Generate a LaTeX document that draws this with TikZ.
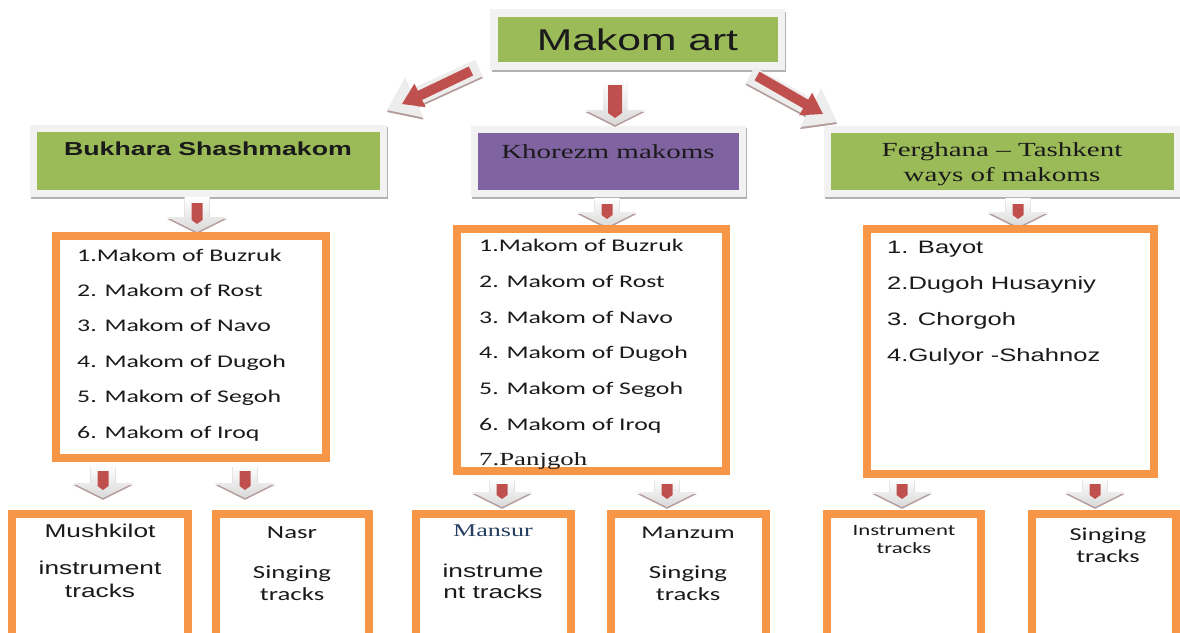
\documentclass[tikz,border=0pt]{standalone}
\usepackage{fontspec}
\setmainfont{Liberation Serif}
\newfontfamily\fA[FakeStretch=1.42]{Liberation Sans}
\newfontfamily\fT[FakeStretch=1.45]{Liberation Serif}
\newfontfamily\fC[FakeStretch=1.45]{Carlito}
\usetikzlibrary{calc}
\definecolor{hgreen}{HTML}{9BBB59}
\definecolor{hpurple}{HTML}{8064A2}
\definecolor{obord}{HTML}{F79646}
\definecolor{ared}{HTML}{C0504D}
\definecolor{agray}{HTML}{EDEDED}
\definecolor{ashadow}{HTML}{B49C9C}
\definecolor{frame}{HTML}{F2F2F2}
\definecolor{mansurc}{HTML}{243F60}
\definecolor{txt}{HTML}{1A1A1A}
% block arrow: #1 style, #2 tail, #3 tip, #4 shaft half, #5 head half, #6 head length
\newcommand\blockarrow[6]{%
  \coordinate (ba-hb) at ($#3!#6!#2$);
  \path[#1] ($#2!#4!90:#3$) -- ($(ba-hb)!#4!90:#3$) -- ($(ba-hb)!#5!90:#3$) -- #3
    -- ($(ba-hb)!#5!-90:#3$) -- ($(ba-hb)!#4!-90:#3$) -- ($#2!#4!-90:#3$) -- cycle;
}
% down arrow between boxes: #1 name, #2 x, #3 top y, #4 tip y
\newcommand\downarr[4]{%
  \coordinate (#1-t) at (#2,#3);
  \coordinate (#1-b) at (#2,#4);
  \coordinate (#1-rt) at (#2,#3+6);
  \coordinate (#1-rb) at (#2,#4-8);
  \blockarrow{fill=ashadow,transform canvas={yshift=-1.8pt}}{(#1-t)}{(#1-b)}{12.5pt}{30pt}{15pt}
  \blockarrow{top color=white,bottom color=black!15}{(#1-t)}{(#1-b)}{12.5pt}{30pt}{15pt}
  \blockarrow{fill=ared}{(#1-rt)}{(#1-rb)}{5.5pt}{5.5pt}{4pt}
}
\tikzset{
  hdr/.style={draw=frame, line width=7pt, inner sep=0pt,
    preaction={draw=black!30, line width=7pt, transform canvas={xshift=1.5pt,yshift=-2pt}}},
  obox/.style={draw=obord, line width=8pt, inner sep=0pt, fill=white},
  itemC/.style={anchor=base west, inner sep=0pt, text=txt, font=\fC\fontsize{17.8}{20}\selectfont},
  itemA/.style={anchor=base west, inner sep=0pt, text=txt, font=\fA\fontsize{18}{20}\selectfont},
  btxt/.style={anchor=base, inner sep=0pt, text=txt},
}
\begin{document}
\begin{tikzpicture}[x=1pt,y=-1pt]
\useasboundingbox (0,0) rectangle (1180,632);
\fill[white] (0,0) rectangle (1180,632);

% ---------- headers ----------
\node[hdr, fill=hgreen, line width=7.5pt, minimum width=287.5, minimum height=53,
  text=txt, font=\fA\fontsize{30}{36}\selectfont] (top) at (637.5,39.5) {Makom art};

\node[hdr, fill=hgreen, minimum width=350, minimum height=64.5,
  label={[font=\fA\bfseries\fontsize{18.8}{22}\selectfont, text=txt, yshift=12pt]center:Bukhara Shashmakom}]
  (bukh) at (208,161) {};
\node[hdr, fill=hpurple, minimum width=268, minimum height=64,
  label={[font=\fT\fontsize{20}{24}\selectfont, text=txt, yshift=10pt]center:Khorezm makoms}]
  (khor) at (608,161.5) {};
\node[hdr, fill=hgreen, minimum width=350, minimum height=64,
  label={[font=\fT\fontsize{20}{25}\selectfont, text=txt, align=center, yshift=-3pt]center:Ferghana – Tashkent\\ways of makoms}]
  (ferg) at (1002,161.5) {};

% ---------- arrows from the title ----------
\coordinate (la-t) at (479,68);  \coordinate (la-b) at (387,110);
\coordinate (la-rt) at (471,71); \coordinate (la-rb) at (402,104);
\blockarrow{fill=ashadow,transform canvas={yshift=-2pt}}{(la-t)}{(la-b)}{9pt}{22pt}{30pt}
\blockarrow{fill=agray}{(la-t)}{(la-b)}{9pt}{22pt}{30pt}
\blockarrow{fill=ared}{(la-rt)}{(la-rb)}{5pt}{13pt}{20pt}

\coordinate (ra-t) at (750,75);  \coordinate (ra-b) at (837,122);
\coordinate (ra-rt) at (757,76); \coordinate (ra-rb) at (823,114);
\blockarrow{fill=ashadow,transform canvas={yshift=-2pt}}{(ra-t)}{(ra-b)}{9pt}{22pt}{30pt}
\blockarrow{fill=agray}{(ra-t)}{(ra-b)}{9pt}{22pt}{30pt}
\blockarrow{fill=ared}{(ra-rt)}{(ra-rb)}{5pt}{13pt}{20pt}

\coordinate (ma-t) at (615,80);  \coordinate (ma-b) at (615,125);
\coordinate (ma-rt) at (615,85); \coordinate (ma-rb) at (615,118);
\blockarrow{fill=ashadow,transform canvas={yshift=-1.8pt}}{(ma-t)}{(ma-b)}{12pt}{30pt}{15pt}
\blockarrow{top color=white,bottom color=black!15}{(ma-t)}{(ma-b)}{12pt}{30pt}{15pt}
\blockarrow{fill=ared}{(ma-rt)}{(ma-rb)}{7pt}{7pt}{5pt}

% ---------- arrows below headers ----------
\downarr{d1}{197}{197}{232}
\downarr{d2}{607}{198}{227}
\downarr{d3}{1018}{198}{227}

% ---------- list boxes ----------
\node[obox, minimum width=270, minimum height=222] (blist) at (191,347) {};
\node[obox, minimum width=269, minimum height=242] (klist) at (591.5,350) {};
\node[obox, minimum width=287, minimum height=245] (flist) at (1010.5,351.5) {};

\foreach \t [count=\i] in {1.Makom of Buzruk, 2. Makom of Rost, 3. Makom of Navo,
  4. Makom of Dugoh, 5. Makom of Segoh, 6. Makom of Iroq}
  \node[itemC] (bi\i) at (77,261+35.4*\i-35.4) {\t};

\foreach \t [count=\i] in {1.Makom of Buzruk, 2. Makom of Rost, 3. Makom of Navo,
  4. Makom of Dugoh, 5. Makom of Segoh, 6. Makom of Iroq}
  \node[itemC] (ki\i) at (479,251.7+35.7*\i-35.7) {\t};
\node[itemC, font=\fT\fontsize{18.5}{20}\selectfont] (ki7) at (479,465.9) {7.Panjgoh};

\foreach \t [count=\i] in {1. Bayot, 2.Dugoh Husayniy, 3. Chorgoh, 4.Gulyor -Shahnoz}
  \node[itemA] (fi\i) at (887,253.3+35.9*\i-35.9) {\t};

% ---------- arrows to bottom boxes ----------
\downarr{e1}{103}{465}{498}
\downarr{e2}{245}{465}{498}
\downarr{e3}{502}{478}{507}
\downarr{e4}{667}{478}{507}
\downarr{e5}{902}{478}{507}
\downarr{e6}{1095}{478}{507}

% ---------- bottom boxes ----------
\node[obox, minimum width=176, minimum height=136] (b1) at (100,582) {};
\node[obox, minimum width=153, minimum height=136] (b2) at (292.5,582) {};
\node[obox, minimum width=155, minimum height=136] (b3) at (493.5,582) {};
\node[obox, minimum width=155, minimum height=136] (b4) at (688.5,582) {};
\node[obox, minimum width=154, minimum height=136] (b5) at (904,582) {};
\node[obox, minimum width=144, minimum height=136] (b6) at (1104,582) {};

\node[btxt, font=\fA\fontsize{18.5}{20}\selectfont] (b1a) at (100,537) {Mushkilot};
\node[btxt, font=\fA\fontsize{18.5}{20}\selectfont] (b1b) at (100,574) {instrument};
\node[btxt, font=\fA\fontsize{18.5}{20}\selectfont] (b1c) at (100,597) {tracks};

\node[btxt, font=\fC\fontsize{18.5}{20}\selectfont] (b2a) at (292,538) {Nasr};
\node[btxt, font=\fC\fontsize{18.5}{20}\selectfont] (b2b) at (292,578) {Singing};
\node[btxt, font=\fC\fontsize{18.5}{20}\selectfont] (b2c) at (292,600) {tracks};

\node[btxt, text=mansurc, font=\fT\fontsize{18}{20}\selectfont] (b3a) at (493,536) {Mansur};
\node[btxt, font=\fA\fontsize{18.5}{20}\selectfont] (b3b) at (493,577) {instrume};
\node[btxt, font=\fA\fontsize{18.5}{20}\selectfont] (b3c) at (493,598) {nt tracks};

\node[btxt, font=\fC\fontsize{18}{20}\selectfont] (b4a) at (688,538) {Manzum};
\node[btxt, font=\fC\fontsize{18.5}{20}\selectfont] (b4b) at (688,578) {Singing};
\node[btxt, font=\fC\fontsize{18.5}{20}\selectfont] (b4c) at (688,600) {tracks};

\node[btxt, font=\fC\fontsize{15.7}{18}\selectfont] (b5a) at (904,535) {Instrument};
\node[btxt, font=\fC\fontsize{15.7}{18}\selectfont] (b5b) at (904,553) {tracks};

\node[btxt, font=\fC\fontsize{18.2}{20}\selectfont] (b6a) at (1108,540) {Singing};
\node[btxt, font=\fC\fontsize{18.2}{20}\selectfont] (b6b) at (1108,562) {tracks};
\end{tikzpicture}
\end{document}
